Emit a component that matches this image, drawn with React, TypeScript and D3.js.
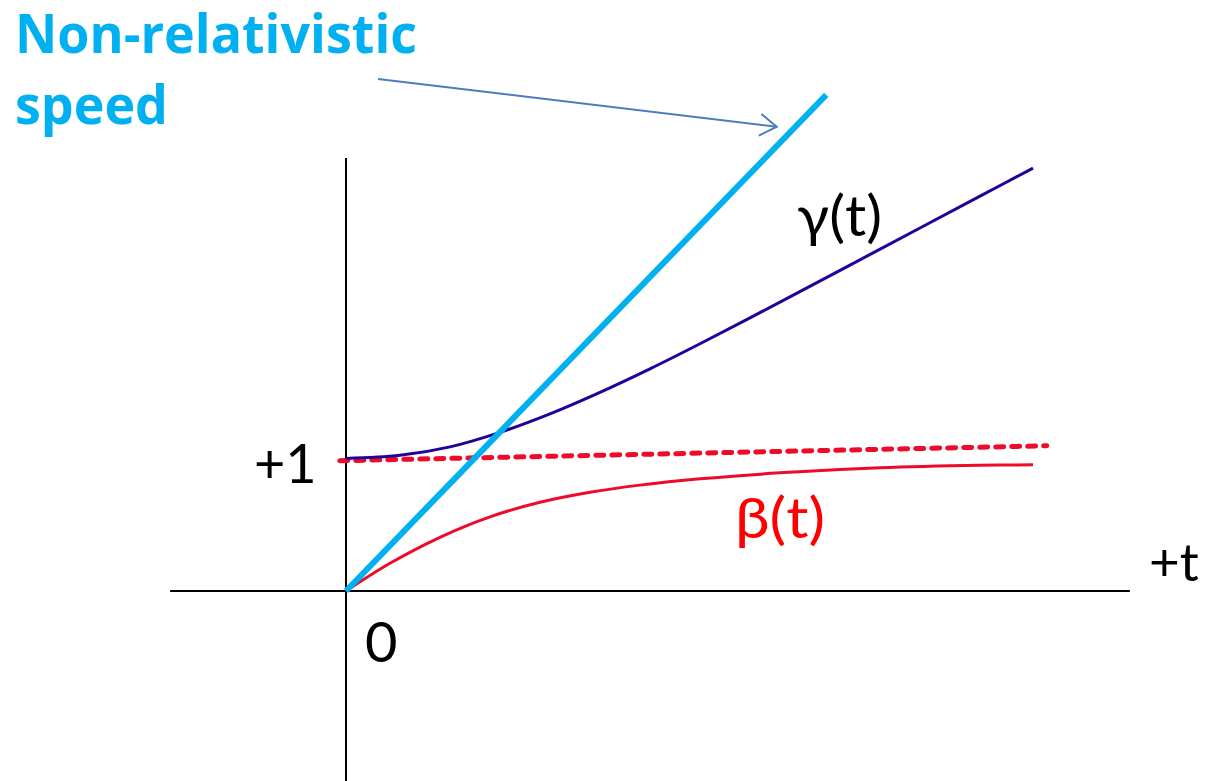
import React from "react";
import * as d3 from "d3";

// time (t) samples and series values
const gammaT = [0, 0.786, 1.514, 2.242, 2.969, 3.697, 4.425, 5.153, 6.317, 7.336, 8.355, 9.229, 10.0];
const gammaV = [1.004, 1.028, 1.092, 1.202, 1.342, 1.505, 1.683, 1.873, 2.188, 2.469, 2.75, 2.991, 3.204];
const betaT = [0, 0.64, 1.368, 2.096, 2.824, 3.552, 4.279, 5.153, 6.317, 7.773, 9.229, 10.0];
const betaV = [0, 0.21, 0.407, 0.562, 0.672, 0.748, 0.802, 0.85, 0.895, 0.933, 0.952, 0.956];
const limitT = [-0.09, 10.2];
const limitV = [0.987, 1.1];
const classicalT = [0, 6.99];
const classicalV = [0, 3.758];
const arrowT = [0.466, 6.27];
const arrowV = [3.879, 3.517];
const axisXDomain = [-2.56, 11.41];
const axisYDomain = [-1.44, 3.28];
const tickLabels = { one: "+1", zero: "0", tAxis: "+t" };

const W = 1208;
const H = 781;

export default function App() {
  const x = d3.scaleLinear().domain([0, 10]).range([346, 1033]);
  const y = d3.scaleLinear().domain([0, 1]).range([591, 459]);

  const line = d3
    .line<[number, number]>()
    .x((d) => x(d[0]))
    .y((d) => y(d[1]))
    .curve(d3.curveCatmullRom.alpha(0.5));
  const straight = d3
    .line<[number, number]>()
    .x((d) => x(d[0]))
    .y((d) => y(d[1]));

  const zip = (a: number[], b: number[]) => a.map((v, i) => [v, b[i]] as [number, number]);

  // arrow
  const ax0 = x(arrowT[0]), ay0 = y(arrowV[0]);
  const ax1 = x(arrowT[1]), ay1 = y(arrowV[1]);
  const ang = Math.atan2(ay1 - ay0, ax1 - ax0);
  const headLen = 20;
  const spread = (33 * Math.PI) / 180;
  const h1 = [ax1 - headLen * Math.cos(ang - spread), ay1 - headLen * Math.sin(ang - spread)];
  const h2 = [ax1 - headLen * Math.cos(ang + spread), ay1 - headLen * Math.sin(ang + spread)];

  const font = "Lato, 'Open Sans', 'DejaVu Sans', sans-serif";
  const boldFont = "'Open Sans', Lato, 'DejaVu Sans', sans-serif";

  return (
    <svg
      width={W}
      height={H}
      viewBox={`0 0 ${W} ${H}`}
      style={{ position: "absolute", left: 0, top: 0, background: "#fff" }}
    >
      {/* axes */}
      <line x1={x(axisXDomain[0])} x2={x(axisXDomain[1])} y1={y(0)} y2={y(0)} stroke="#000" strokeWidth={2} />
      <line x1={x(0)} x2={x(0)} y1={y(axisYDomain[0])} y2={y(axisYDomain[1])} stroke="#000" strokeWidth={2} />

      {/* limit line (dashed) */}
      <path
        d={straight(zip(limitT, limitV)) || ""}
        fill="none"
        stroke="#ee0a2a"
        strokeWidth={5}
        strokeDasharray="8 8"
        strokeLinecap="round"
      />
      {/* beta */}
      <path d={line(zip(betaT, betaV)) || ""} fill="none" stroke="#ee0a2a" strokeWidth={3} />
      {/* gamma */}
      <path d={line(zip(gammaT, gammaV)) || ""} fill="none" stroke="#230099" strokeWidth={3} />
      {/* classical speed */}
      <path d={straight(zip(classicalT, classicalV)) || ""} fill="none" stroke="#00b0f0" strokeWidth={6} />

      {/* arrow */}
      <line x1={ax0} y1={ay0} x2={ax1} y2={ay1} stroke="#4a7ebb" strokeWidth={2} />
      <polyline
        points={`${h1[0]},${h1[1]} ${ax1},${ay1} ${h2[0]},${h2[1]}`}
        fill="none"
        stroke="#4a7ebb"
        strokeWidth={2}
      />

      {/* texts */}
      <text x={15} y={53} fontFamily={boldFont} fontWeight={700} fontSize={53} fill="#00b0f0" textLength={402} lengthAdjust="spacingAndGlyphs">
        Non-relativistic
      </text>
      <text x={15} y={124} fontFamily={boldFont} fontWeight={700} fontSize={54} fill="#00b0f0" textLength={153} lengthAdjust="spacingAndGlyphs">
        speed
      </text>
      <text x={797} y={236} fontFamily={font} fontSize={57} fill="#000" textLength={85} lengthAdjust="spacingAndGlyphs">
        γ(t)
      </text>
      <text x={735} y={538} fontFamily={font} fontSize={57} fill="#ff0000" textLength={90} lengthAdjust="spacingAndGlyphs">
        β(t)
      </text>
      <text x={254} y={483} fontFamily={font} fontSize={54} fill="#000">
        {tickLabels.one}
      </text>
      <text x={365} y={662} fontFamily={font} fontSize={56} fill="#000">
        {tickLabels.zero}
      </text>
      <text x={1149} y={581} fontFamily={font} fontSize={53} fill="#000">
        {tickLabels.tAxis}
      </text>
    </svg>
  );
}
